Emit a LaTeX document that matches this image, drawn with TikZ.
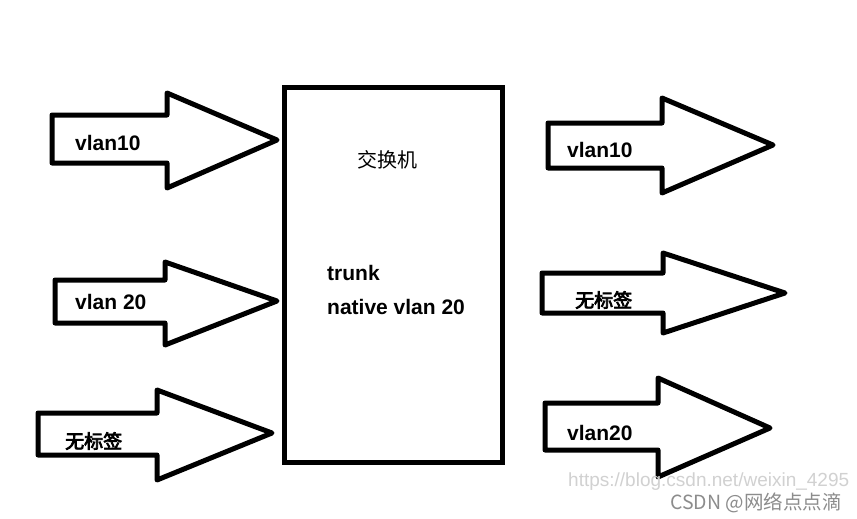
\documentclass[tikz,border=0pt]{standalone}
\usepackage{fontspec}
\setmainfont{Liberation Sans}
\newfontfamily\cjk{Noto Sans CJK SC}
\newfontfamily\cjkb{Noto Sans CJK SC}[FakeBold=4]
\begin{document}
\begin{tikzpicture}[x=1pt,y=-1pt,
  fatarrow/.style={draw=black,fill=white,line width=5pt,line join=round},
  lbl/.style={anchor=west,font=\fontsize{21}{23}\selectfont\bfseries,inner sep=0pt},
  zh/.style={anchor=west,font=\fontsize{19}{21}\selectfont\cjkb,inner sep=0pt},
  wm/.style={anchor=west,inner sep=0pt,text=black!18,font=\fontsize{19}{21}\selectfont}]
\useasboundingbox (0,0) rectangle (857,519);
\clip (0,0) rectangle (857,519);
\fill[white] (0,0) rectangle (857,519);
% left arrows
\draw[fatarrow] (52,115) -- (167,115) -- (167,93) -- (277,140) -- (167,188) -- (167,163) -- (52,163) -- cycle;
\draw[fatarrow] (55,280) -- (165,280) -- (165,262) -- (277,301) -- (165,345) -- (165,323) -- (55,323) -- cycle;
\draw[fatarrow] (38,413) -- (157,413) -- (157,390) -- (272,433) -- (157,480) -- (157,455) -- (38,455) -- cycle;
% right arrows
\draw[fatarrow] (548,123) -- (662,123) -- (662,98) -- (773,145) -- (662,193) -- (662,168) -- (548,168) -- cycle;
\draw[fatarrow] (542,273) -- (663,273) -- (663,253) -- (785,293) -- (663,333) -- (663,313) -- (542,313) -- cycle;
\draw[fatarrow] (545,403) -- (658,403) -- (658,378) -- (770,428) -- (658,477) -- (658,450) -- (545,450) -- cycle;
% switch
\node[draw=black,line width=5pt,minimum width=218pt,minimum height=375pt,inner sep=0pt,anchor=north west] (sw) at (282,85) {};
\node[anchor=center,font=\fontsize{20}{22}\selectfont\cjk,inner sep=0pt] (swname) at (387,160) {交换机};
\node[lbl] (trunk) at (327,273) {trunk};
\node[lbl] (native) at (327,307) {native vlan 20};
% labels
\node[lbl] (l1) at (75,143) {vlan10};
\node[lbl] (l2) at (75,302) {vlan 20};
\node[zh] (l3) at (65,441) {无标签};
\node[lbl] (r1) at (567,150) {vlan10};
\node[zh] (r2) at (575,300) {无标签};
\node[lbl] (r3) at (567,433) {vlan20};
% watermark
\node[wm] (wm1) at (568,482) {https://blog.csdn.net/weixin\_4295};
\node[wm,text=black!45,font=\fontsize{19.5}{21}\selectfont\cjk] (wm2) at (670,503) {CSDN @网络点点滴};
\end{tikzpicture}
\end{document}
